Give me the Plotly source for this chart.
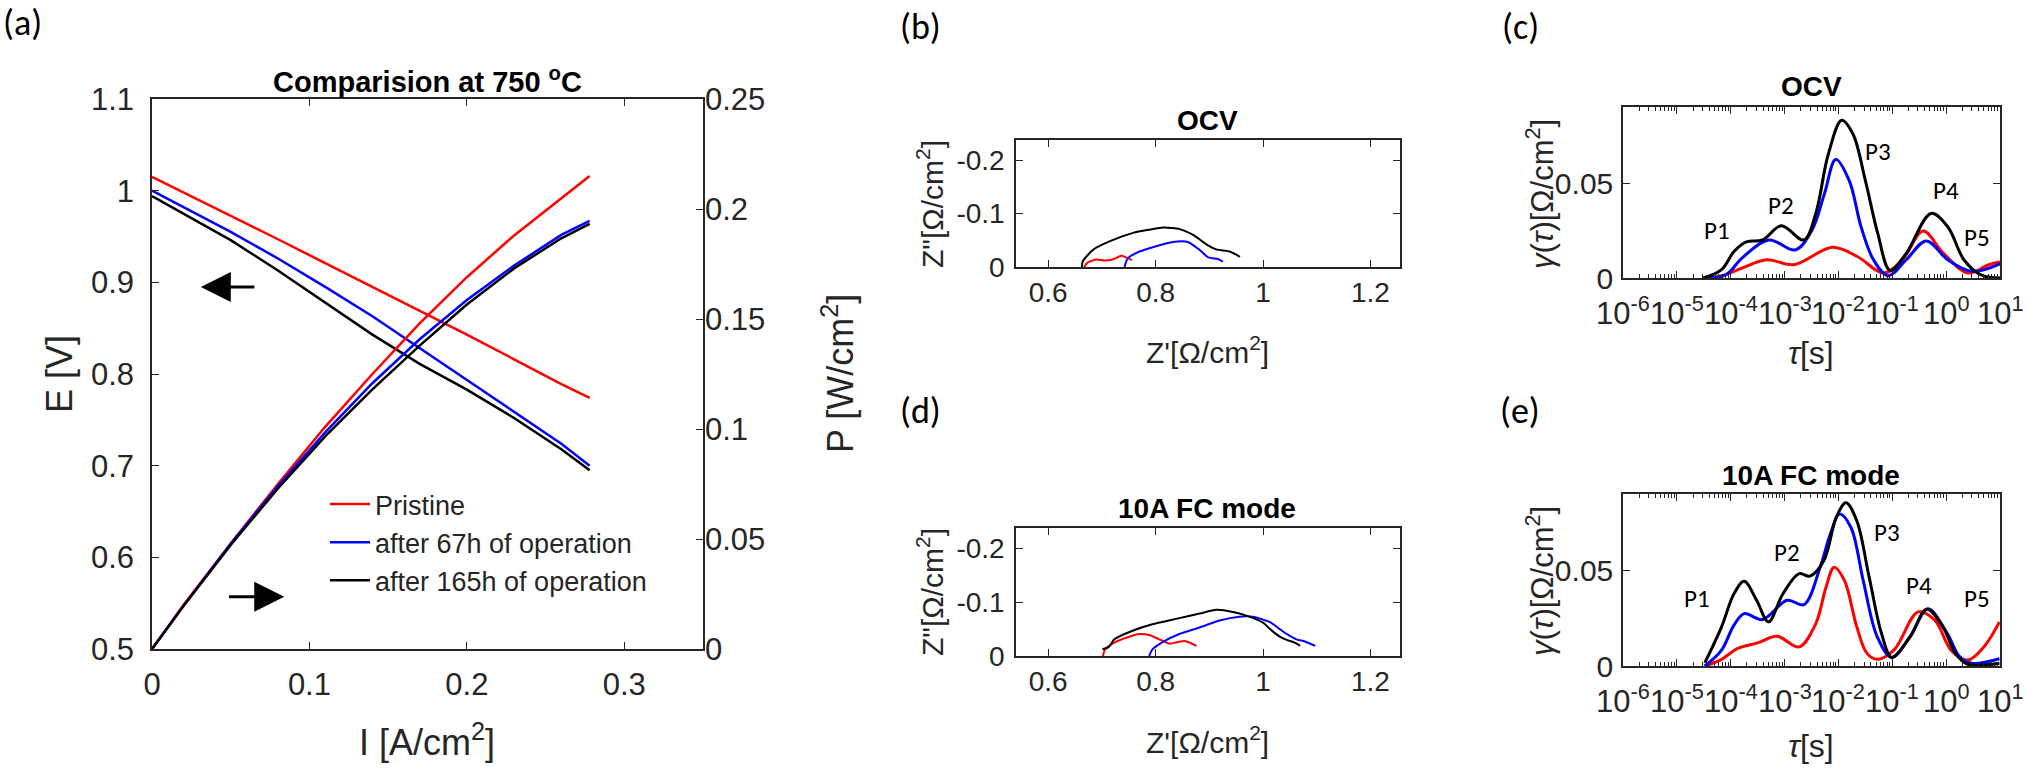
import plotly.graph_objects as go

W, H = 2026, 769
FONT = "Arial, Liberation Sans, sans-serif"
LABEL_FONT = "Carlito, Lato, sans-serif"
AX = "#262626"
RED, BLUE, BLACK = "#ff0000", "#0000ff", "#000000"

# ---- (a) I-V and I-P curves ----
current = [0, 0.02, 0.05, 0.08, 0.11, 0.14, 0.17, 0.20, 0.23, 0.26, 0.278]
E_pristine = [1.015, 0.998, 0.973, 0.947, 0.921, 0.895, 0.869, 0.843, 0.816, 0.789, 0.774]
E_67h = [1.000, 0.982, 0.955, 0.926, 0.895, 0.863, 0.828, 0.793, 0.758, 0.724, 0.700]
E_165h = [0.994, 0.975, 0.946, 0.913, 0.878, 0.843, 0.811, 0.783, 0.752, 0.718, 0.695]
P_pristine = [0, 0.020, 0.048, 0.075, 0.101, 0.125, 0.148, 0.169, 0.188, 0.205, 0.215]
P_67h = [0, 0.0196, 0.0478, 0.0741, 0.0985, 0.1208, 0.1408, 0.1586, 0.1743, 0.1882, 0.1946]
P_165h = [0, 0.0195, 0.0473, 0.0730, 0.0966, 0.1180, 0.1379, 0.1566, 0.1730, 0.1867, 0.1932]
legend_names = ["Pristine", "after 67h of operation", "after 165h of operation"]

# ---- (b) Nyquist, OCV ----
b_red_re = [0.667, 0.673, 0.689, 0.705, 0.720, 0.736, 0.745, 0.756]
b_red_im = [0, -0.008, -0.014, -0.012, -0.014, -0.021, -0.018, -0.013]
b_blue_re = [0.742, 0.748, 0.770, 0.801, 0.832, 0.860, 0.882, 0.898, 0.916, 0.925]
b_blue_im = [0, -0.016, -0.029, -0.039, -0.047, -0.047, -0.032, -0.018, -0.015, -0.010]
b_black_re = [0.663, 0.664, 0.683, 0.714, 0.758, 0.789, 0.814, 0.845, 0.870, 0.895, 0.913, 0.938, 0.957]
b_black_im = [0, -0.010, -0.032, -0.048, -0.064, -0.070, -0.074, -0.071, -0.060, -0.042, -0.033, -0.029, -0.019]

# ---- (d) Nyquist, 10A FC mode ----
d_red_re = [0.702, 0.706, 0.723, 0.745, 0.770, 0.788, 0.807, 0.826, 0.838, 0.854, 0.876]
d_red_im = [0, -0.0125, -0.025, -0.034, -0.041, -0.039, -0.031, -0.023, -0.025, -0.028, -0.019]
d_blue_re = [0.788, 0.794, 0.813, 0.844, 0.882, 0.919, 0.956, 0.981, 1.013, 1.031, 1.044, 1.062, 1.078, 1.097]
d_blue_im = [0, -0.0125, -0.026, -0.041, -0.053, -0.066, -0.073, -0.073, -0.063, -0.050, -0.041, -0.031, -0.027, -0.019]
d_black_re = [0.701, 0.713, 0.723, 0.757, 0.794, 0.838, 0.882, 0.913, 0.944, 0.969, 1.000, 1.013, 1.031, 1.044, 1.059, 1.069]
d_black_im = [-0.0125, -0.017, -0.031, -0.047, -0.059, -0.069, -0.079, -0.086, -0.082, -0.075, -0.062, -0.050, -0.036, -0.030, -0.025, -0.019]

# ---- (c) DRT, OCV ----
c_red_tau = [3.31e-5, 6.76e-5, 1.62e-4, 4.68e-4, 1.48e-3, 7.76e-3, 2.24e-2, 6.92e-2, 0.155, 0.372, 0.891, 2.57, 6.17, 10]
c_red_g = [0, 0.0012, 0.0052, 0.0096, 0.007, 0.0162, 0.0113, 0.0026, 0.0096, 0.0247, 0.013, 0.0026, 0.007, 0.0084]
c_blue_tau = [3.39e-5, 8.13e-5, 1.62e-4, 5.13e-4, 1.58e-3, 3.24e-3, 5.50e-3, 8.91e-3, 1.58e-2, 2.63e-2,
              4.47e-2, 8.32e-2, 0.182, 0.427, 1.07, 3.02, 10]
c_blue_g = [0, 0.0017, 0.0105, 0.020, 0.0148, 0.0253, 0.0444, 0.0624, 0.0514, 0.027,
            0.0096, 0.0012, 0.0096, 0.0195, 0.0096, 0.0035, 0.0075]
c_black_tau = [3.09e-5, 6.76e-5, 1.15e-4, 1.95e-4, 3.89e-4, 8.71e-4, 2.29e-3, 3.80e-3, 6.46e-3, 1.15e-2,
               1.86e-2, 3.16e-2, 5.37e-2, 9.12e-2, 0.182, 0.525, 1.07, 2.14, 4.37, 10]
c_black_g = [0, 0.0044, 0.0139, 0.019, 0.020, 0.0275, 0.020, 0.034, 0.065, 0.083,
             0.0758, 0.0514, 0.0235, 0.004, 0.013, 0.034, 0.027, 0.0096, 0.0017, 0.0]

# ---- (e) DRT, 10A FC mode ----
e_red_tau = [3.31e-5, 6.76e-5, 1.35e-4, 3.24e-4, 7.24e-4, 1.86e-3, 3.80e-3, 5.89e-3, 8.32e-3, 1.29e-2,
             2.19e-2, 3.39e-2, 5.25e-2, 0.107, 0.302, 0.617, 1.23, 2.51, 5.01, 9.77]
e_red_g = [0, 0.0035, 0.0092, 0.0122, 0.0156, 0.010, 0.0222, 0.0413, 0.0517, 0.0448,
           0.0205, 0.0066, 0.0035, 0.0083, 0.0283, 0.024, 0.0083, 0.0031, 0.010, 0.0231]
e_blue_tau = [3.31e-5, 6.76e-5, 1.15e-4, 1.78e-4, 3.89e-4, 1.12e-3, 2.29e-3, 4.57e-3, 7.08e-3, 1.05e-2,
              1.70e-2, 2.88e-2, 5.25e-2, 9.77e-2, 0.214, 0.457, 1.05, 1.78, 2.95, 9.77]
e_blue_g = [0, 0.0083, 0.0214, 0.0274, 0.0243, 0.0344, 0.0321, 0.0517, 0.069, 0.0795,
            0.0726, 0.0448, 0.0153, 0.0045, 0.0153, 0.0299, 0.017, 0.0049, 0.0014, 0.0038]
e_black_tau = [3.31e-5, 6.76e-5, 1.15e-4, 1.78e-4, 3.02e-4, 5.01e-4, 9.33e-4, 1.86e-3, 2.95e-3, 5.37e-3, 9.12e-3,
               1.38e-2, 2.19e-2, 3.72e-2, 6.31e-2, 9.77e-2, 0.214, 0.437, 0.871, 1.48, 2.51, 9.77]
e_black_g = [0.0017, 0.0205, 0.0378, 0.0443, 0.0344, 0.0231, 0.0378, 0.0483, 0.047, 0.0552, 0.0778,
             0.0854, 0.076, 0.0465, 0.017, 0.0045, 0.0153, 0.0297, 0.0205, 0.0066, 0.0009, 0.0014]

peak_names = ["P1", "P2", "P3", "P4", "P5"]
log_decades = [-6, -5, -4, -3, -2, -1, 0, 1]
log_ticks = [1e-6, 1e-5, 1e-4, 1e-3, 1e-2, 1e-1, 1e0, 1e1]
log_labels = ["10<sup>-6</sup>", "10<sup>-5</sup>", "10<sup>-4</sup>", "10<sup>-3</sup>",
              "10<sup>-2</sup>", "10<sup>-1</sup>", "10<sup>0</sup>", "10<sup>1</sup>"]


def fx(p):
    return p / W


def fy(p):
    return 1 - p / H


fig = go.Figure()

# (a)
for E, name, col in zip([E_pristine, E_67h, E_165h], legend_names, [RED, BLUE, BLACK]):
    fig.add_trace(go.Scatter(x=current, y=E, mode="lines", name=name, line=dict(color=col, width=2.5),
                             xaxis="x", yaxis="y"))
for P, col in zip([P_pristine, P_67h, P_165h], [RED, BLUE, BLACK]):
    fig.add_trace(go.Scatter(x=current, y=P, mode="lines", showlegend=False, line=dict(color=col, width=2.5),
                             xaxis="x", yaxis="y2"))

# (b) and (d)
for ax, sets in [("3", [(b_red_re, b_red_im, RED), (b_blue_re, b_blue_im, BLUE), (b_black_re, b_black_im, BLACK)]),
                 ("5", [(d_red_re, d_red_im, RED), (d_blue_re, d_blue_im, BLUE), (d_black_re, d_black_im, BLACK)])]:
    for re_, im_, col in sets:
        fig.add_trace(go.Scatter(x=re_, y=im_, mode="lines", showlegend=False,
                                 line=dict(color=col, width=2, shape="spline", smoothing=0.6),
                                 xaxis="x" + ax, yaxis="y" + ax))

# (c) and (e)
for ax, sets in [("4", [(c_red_tau, c_red_g, RED), (c_blue_tau, c_blue_g, BLUE), (c_black_tau, c_black_g, BLACK)]),
                 ("6", [(e_red_tau, e_red_g, RED), (e_blue_tau, e_blue_g, BLUE), (e_black_tau, e_black_g, BLACK)])]:
    for t, g, col in sets:
        fig.add_trace(go.Scatter(x=t, y=g, mode="lines", showlegend=False,
                                 line=dict(color=col, width=3, shape="spline", smoothing=1.0),
                                 xaxis="x" + ax, yaxis="y" + ax))


def axstyle(size, **kw):
    d = dict(showline=True, linecolor=AX, linewidth=1.5, ticks="inside", tickcolor=AX, ticklen=7,
             tickwidth=1.2, showgrid=False, zeroline=False, automargin=False,
             tickfont=dict(family=FONT, size=size, color=AX))
    d.update(kw)
    return d


minor_log = [m * 10.0 ** e for e in range(-6, 1) for m in range(2, 10)]
log_minor = dict(ticks="inside", ticklen=4, tickcolor=AX, tickmode="array", tickvals=minor_log)

fig.update_layout(
    template="none",
    width=W, height=H, margin=dict(l=0, r=0, t=0, b=0, autoexpand=False),
    paper_bgcolor="white", plot_bgcolor="white", showlegend=True,
    xaxis=axstyle(31, domain=[fx(152), fx(703)], range=[0, 0.35], tickvals=[0, 0.1, 0.2, 0.3],
                  anchor="y", mirror="ticks", ticklabelstandoff=7),
    yaxis=axstyle(31, domain=[fy(649), fy(99)], range=[0.5, 1.1], dtick=0.1, anchor="x",
                  ticklabelstandoff=10),
    yaxis2=axstyle(31, domain=[fy(649), fy(99)], range=[0, 0.25], dtick=0.05, overlaying="y",
                   side="right", anchor="x", ticklabelstandoff=-6),
    xaxis3=axstyle(28, domain=[fx(1016), fx(1400)], range=[0.54, 1.255], tickvals=[0.6, 0.8, 1, 1.2],
                   ticktext=["0.6", "0.8", "1", "1.2"], anchor="y3", mirror="ticks", ticklabelstandoff=0),
    yaxis3=axstyle(28, domain=[fy(267), fy(140)], range=[0, -0.238], tickvals=[0, -0.1, -0.2],
                   ticktext=["0", "-0.1", "-0.2"], anchor="x3", mirror="ticks", ticklabelstandoff=4),
    xaxis5=axstyle(28, domain=[fx(1016), fx(1400)], range=[0.54, 1.255], tickvals=[0.6, 0.8, 1, 1.2],
                   ticktext=["0.6", "0.8", "1", "1.2"], anchor="y5", mirror="ticks", ticklabelstandoff=0),
    yaxis5=axstyle(28, domain=[fy(656), fy(528)], range=[0, -0.238], tickvals=[0, -0.1, -0.2],
                   ticktext=["0", "-0.1", "-0.2"], anchor="x5", mirror="ticks", ticklabelstandoff=4),
    xaxis4=axstyle(30, type="log", domain=[fx(1623), fx(2000)], range=[-6, 1], tickvals=log_ticks,
                   showticklabels=False, anchor="y4", mirror="ticks", minor=log_minor),
    yaxis4=axstyle(30, domain=[fy(278), fy(107)], range=[0, 0.09], tickvals=[0, 0.05],
                   ticktext=["0", "0.05"], anchor="x4", mirror="ticks", ticklabelstandoff=2),
    xaxis6=axstyle(30, type="log", domain=[fx(1623), fx(2000)], range=[-6, 1], tickvals=log_ticks,
                   showticklabels=False, anchor="y6", mirror="ticks", minor=log_minor),
    yaxis6=axstyle(30, domain=[fy(666), fy(494)], range=[0, 0.09], tickvals=[0, 0.05],
                   ticktext=["0", "0.05"], anchor="x6", mirror="ticks", ticklabelstandoff=2),
    legend=dict(x=fx(325), y=fy(480), xanchor="left", yanchor="top", bgcolor="rgba(0,0,0,0)",
                font=dict(family=FONT, size=27, color=AX), itemwidth=40, tracegroupgap=0),
)

ann = []


def text(px, py, s, size, bold=False, angle=0, family=FONT, color=AX):
    ann.append(dict(x=fx(px), y=fy(py), xref="paper", yref="paper", text=("<b>%s</b>" % s) if bold else s,
                    showarrow=False, textangle=angle, xanchor="center", yanchor="middle",
                    font=dict(family=family, size=size, color=color)))


# log tick labels of (c) and (e), centred on their ticks
for xa, py in [("x4", 311), ("x6", 699)]:
    for dec, lab in zip(log_decades, log_labels):
        ann.append(dict(x=dec, y=fy(py), xref=xa, yref="paper", text=lab, showarrow=False,
                        xanchor="center", yanchor="middle", font=dict(family=FONT, size=31, color=AX)))

# panel letters
for px, py, s in [(22, 23, "(a)"), (920, 27, "(b)"), (1520, 27, "(c)"), (920, 411, "(d)"), (1520, 411, "(e)")]:
    text(px, py, s, 36, family=LABEL_FONT, color="black")

# titles
text(427, 80, "Comparision at 750 <sup>o</sup>C", 29, bold=True, color="black")
text(1207, 120, "OCV", 28, bold=True, color="black")
text(1207, 508, "10A FC mode", 28, bold=True, color="black")
text(1811, 87, "OCV", 28, bold=True, color="black")
text(1811, 475, "10A FC mode", 28, bold=True, color="black")

# axis titles
text(60, 374, "E [V]", 36, angle=-90)
text(427, 740, "I [A/cm<sup>2</sup>]", 36)
text(838, 374, "P [W/cm<sup>2</sup>]", 36, angle=-90)
for py_t, py_x in [(204, 350), (592, 740)]:
    text(930, py_t, "Z\"[Ω/cm<sup>2</sup>]", 30, angle=-90)
    text(1207, py_x, "Z'[Ω/cm<sup>2</sup>]", 30)
for py_t, py_x in [(194, 353), (581, 746)]:
    text(1540, py_t, "<i>γ</i>(<i>τ</i>)[Ω/cm<sup>2</sup>]", 31, angle=-90)
    text(1811, py_x, "<i>τ</i>[s]", 32)

# peak labels
for (px, py), s in zip([(1717, 230), (1781, 205), (1878, 152), (1946, 190), (1977, 237)], peak_names):
    text(px, py, s, 25, family=LABEL_FONT, color="black")
for (px, py), s in zip([(1697, 598), (1787, 552), (1887, 532), (1919, 585), (1977, 598)], peak_names):
    text(px, py, s, 25, family=LABEL_FONT, color="black")

# arrows in (a)
ann.append(dict(x=0.031, y=0.895, ax=0.066, ay=0.895, xref="x", yref="y", axref="x", ayref="y",
                showarrow=True, arrowhead=2, arrowsize=2, arrowwidth=3, arrowcolor="black", text=""))
ann.append(dict(x=0.084, y=0.557, ax=0.048, ay=0.557, xref="x", yref="y", axref="x", ayref="y",
                showarrow=True, arrowhead=2, arrowsize=2, arrowwidth=3, arrowcolor="black", text=""))

fig.update_layout(annotations=ann)
# the page's default 8px body margin would push the figure off the right edge
fig.write_html("out.html", config={"displayModeBar": False},
               post_script="document.body.style.margin = '0px';")
